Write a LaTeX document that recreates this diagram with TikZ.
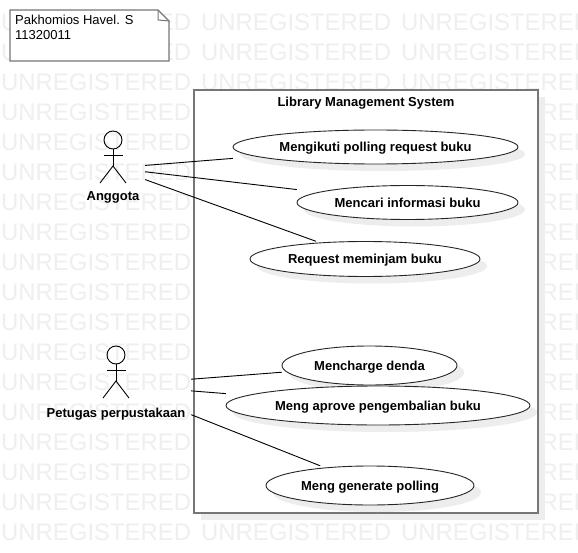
\documentclass[tikz,border=0pt]{standalone}
\usepackage{fontspec}
\setmainfont{Liberation Sans}
\definecolor{markgray}{HTML}{EFEFEF}
\definecolor{shadowgray}{HTML}{EDEDED}
\definecolor{framegray}{HTML}{767676}
\tikzset{
  watermark/.style={anchor=west, inner sep=0pt, text=markgray, font=\fontsize{23.9}{24}\selectfont},
  label/.style={inner sep=0pt, font=\bfseries\fontsize{13}{15}\selectfont, text=black, text height=10pt, text depth=0pt},
  usecase/.style={rectangle, label, align=center},
  actorbox/.style={rectangle, inner sep=0pt},
  assoc/.style={draw=black, line width=.9pt},
  stick/.style={draw=black, line width=.9pt}
}

\begin{document}
\begin{tikzpicture}[x=1pt, y=-1pt]
      \useasboundingbox (0,0) rectangle (578,553);
      \clip (0,0) rectangle (578,553);
      \fill[white] (0,0) rectangle (578,553);

      % system shadow, then the repeated text
      \fill[shadowgray] (201,97) rectangle (545,520);
      \foreach \r in {0,...,17} {
        \foreach \c in {0,1,2} {
          \node[watermark] (Mark\r-\c) at (1+\c*200,22+\r*30) {UNREGISTERED};
        }
      }

      % note
      \draw[fill=white, draw=framegray, line width=1.4pt] (10,10) -- (158,10) -- (169,21) -- (169,61) -- (10,61) -- cycle;
      \draw[draw=framegray, line width=1pt] (158,10) -- (158,20) -- (169,21);
      \node[inner sep=0pt, font=\fontsize{13}{15}\selectfont, anchor=north west, align=left] (Note) at (15,15) {Pakhomios Havel. S\\11320011};

      % system
      \draw[fill=white, draw=framegray, line width=2pt] (194,90) rectangle (538,513);
      \node[label] (System) at (366,102) {Library Management System};

      \foreach \name/\x/\y/\w/\h/\txt in {
          UcPolling/375.5/147/285/34/Mengikuti polling request buku,
          UcCari/407.5/202.5/221/34/Mencari informasi buku,
          UcPinjam/365/259/230/35/Request meminjam buku,
          UcDenda/369.5/365.5/175/39/Mencharge denda,
          UcAprove/378/405.5/304/39/Meng aprove pengembalian buku,
          UcGenerate/370/485.5/208/39/Meng generate polling} {
        \fill[shadowgray] (\x+7,\y+7) ellipse [x radius=\w/2, y radius=\h/2];
        \draw[fill=white, draw=black!85, line width=.9pt] (\x,\y) ellipse [x radius=\w/2, y radius=\h/2];
        \node[usecase, minimum width=\w pt, minimum height=\h pt] (\name) at (\x,\y) {\txt};
      }

      \foreach \name/\x/\y/\w/\h/\hy/\ly/\txt in {
          Anggota/113/168/64/74/140/196/Anggota,
          Petugas/116/385/150/78/355/412/Petugas perpustakaan} {
        \node[actorbox, minimum width=\w pt, minimum height=\h pt] (\name) at (\x,\y) {};
        \draw[stick] (\x,\hy) circle (9);
        \draw[stick] (\x,\hy+9) -- ++(0,17);
        \draw[stick] (\x-13,\hy+43) -- (\x,\hy+26) -- (\x+13,\hy+43);
        \draw[stick] (\x-9.5,\hy+15) -- ++(19,0);
        \node[label] (\name Label) at (\x,\ly) {\txt};
      }

      \draw[assoc] (Anggota) -- (UcPolling);
      \draw[assoc] (Anggota) -- (UcCari);
      \draw[assoc] (Anggota) -- (UcPinjam);
      \draw[assoc] (Petugas) -- (UcDenda);
      \draw[assoc] (Petugas) -- (UcAprove);
      \draw[assoc] (Petugas) -- (UcGenerate);
    \end{tikzpicture}
\end{document}
